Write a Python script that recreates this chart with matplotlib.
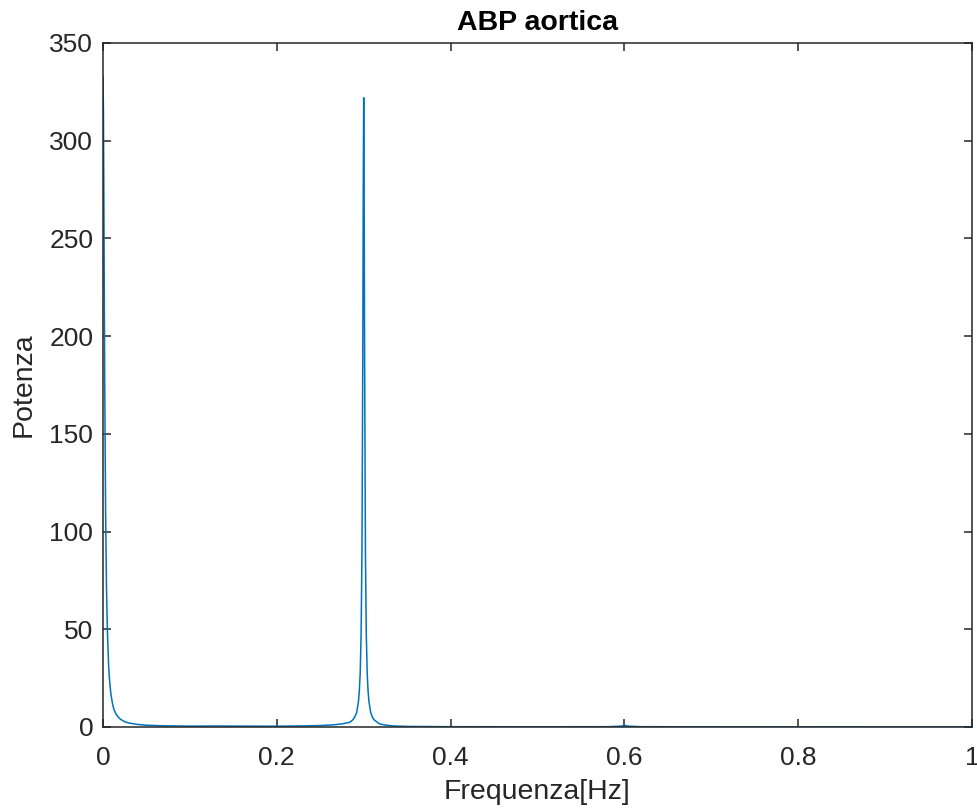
#!/usr/bin/env python3
import matplotlib

matplotlib.use("Agg")
import matplotlib.pyplot as plt

# Power spectrum (Hz, power)
FREQ = [
    0.0, 0.0005, 0.001, 0.0015, 0.002, 0.003, 0.004, 0.005, 0.0065, 0.0075,
    0.009, 0.011, 0.0125, 0.015, 0.0175, 0.02, 0.025, 0.03, 0.04, 0.05,
    0.07, 0.1, 0.13, 0.16, 0.2, 0.23, 0.25, 0.265, 0.275, 0.283,
    0.285, 0.288, 0.29, 0.292, 0.294, 0.295, 0.296, 0.297, 0.298, 0.299,
    0.2995, 0.3, 0.3005, 0.301, 0.302, 0.303, 0.304, 0.305, 0.306, 0.308,
    0.31, 0.312, 0.317, 0.32, 0.325, 0.335, 0.35, 0.4, 0.5, 0.58,
    0.595, 0.6, 0.605, 0.62, 0.7, 0.8, 0.9, 1.0,
]
POWER = [
    333, 315, 271, 220, 175, 110, 72, 50, 31, 24.2,
    17.2, 11.7, 9.1, 6.6, 5.1, 4.0, 2.7, 2.0, 1.3, 0.9,
    0.6, 0.45, 0.5, 0.45, 0.4, 0.55, 0.75, 1.1, 1.6, 2.3,
    2.7, 3.9, 5.4, 7.5, 13.2, 18.6, 28, 47, 89, 195,
    277, 322, 277, 195, 89, 47, 28, 18.6, 13.2, 7.5,
    5.0, 3.7, 1.9, 1.4, 1.0, 0.5, 0.3, 0.15, 0.12, 0.15,
    0.4, 0.8, 0.4, 0.15, 0.1, 0.08, 0.06, 0.05,
]

X_TICKS = [0, 0.2, 0.4, 0.6, 0.8, 1]
X_LABELS = ["0", "0.2", "0.4", "0.6", "0.8", "1"]
Y_TICKS = [0, 50, 100, 150, 200, 250, 300, 350]

LINE_COLOR = "#0072bd"
AXIS_COLOR = "#262626"


def main():
    plt.rcParams["font.family"] = ["Liberation Sans", "DejaVu Sans"]

    fig = plt.figure(figsize=(9.78, 8.09), dpi=100)
    ax = fig.add_axes([103 / 978, 1 - 727 / 809, 869 / 978, 684 / 809])

    ax.plot(FREQ, POWER, color=LINE_COLOR, linewidth=1.1)

    ax.set_xlim(0, 1)
    ax.set_ylim(0, 350)
    ax.set_xticks(X_TICKS)
    ax.set_xticklabels(X_LABELS)
    ax.set_yticks(Y_TICKS)

    for side in ax.spines.values():
        side.set_color(AXIS_COLOR)
        side.set_linewidth(1.1)
    ax.tick_params(
        direction="in", length=6, width=1.1, color=AXIS_COLOR,
        labelcolor=AXIS_COLOR, labelsize=19, top=True, right=True,
    )
    ax.tick_params(axis="x", pad=14)
    ax.tick_params(axis="y", pad=7)

    ax.set_title("ABP aortica", fontsize=20.5, fontweight="bold", color="black", pad=9)
    ax.set_xlabel("Frequenza[Hz]", fontsize=20.5, color=AXIS_COLOR, labelpad=6)
    ax.set_ylabel("Potenza", fontsize=20.5, color=AXIS_COLOR, labelpad=9)

    fig.savefig("out.png", dpi=100)


if __name__ == "__main__":
    main()
